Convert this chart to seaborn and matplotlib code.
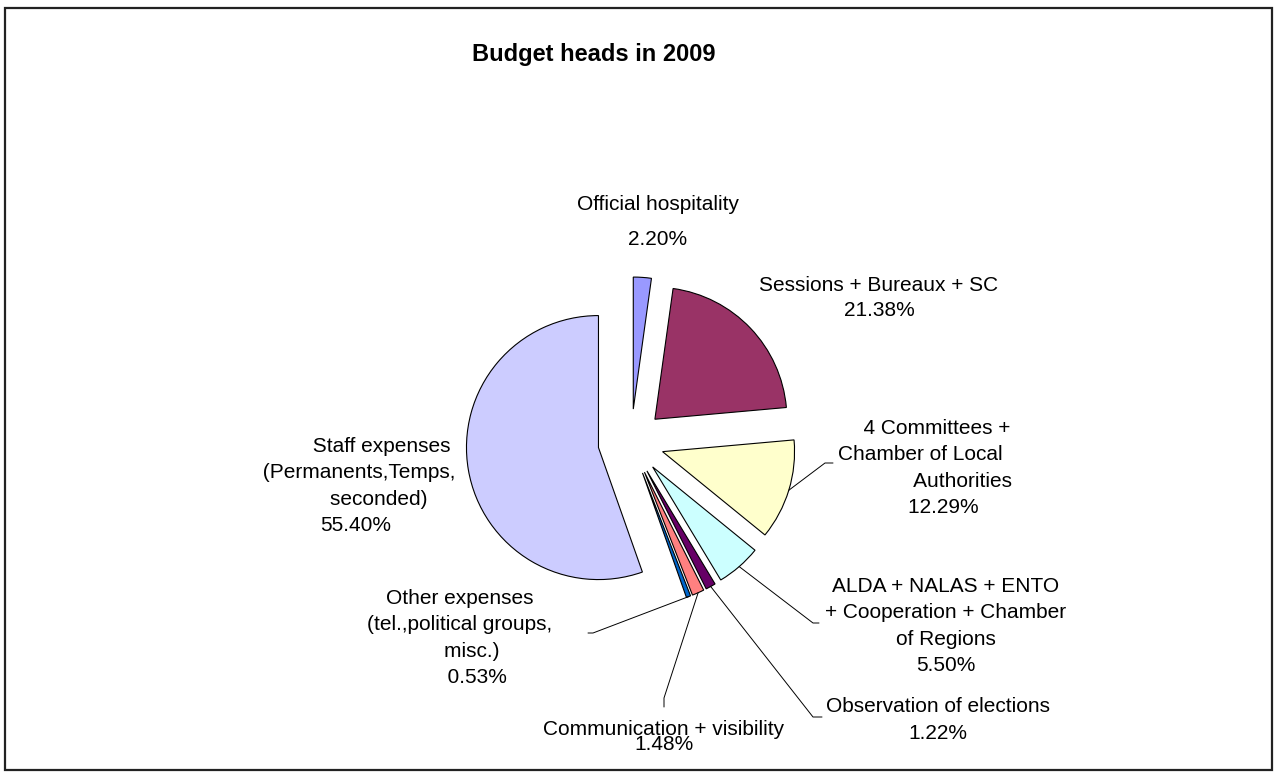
import math

import matplotlib

matplotlib.use("Agg")
import matplotlib.pyplot as plt
import seaborn as sns
from matplotlib.patches import Rectangle

# ------------------------------------------------------------------------------------------------ #
sns.set_style("white")
plt.rcParams["font.family"] = ["Liberation Sans", "DejaVu Sans"]
plt.rcParams["text.color"] = "black"
# ------------------------------------------------------------------------------------------------ #

# data, clockwise from 12 o'clock
heads = [
    "Official hospitality",
    "Sessions + Bureaux + SC",
    "4 Committees +\nChamber of Local\nAuthorities",
    "ALDA + NALAS + ENTO\n+ Cooperation + Chamber\nof Regions",
    "Observation of elections",
    "Communication + visibility",
    "Other expenses\n(tel.,political groups,\nmisc.)",
    "Staff expenses\n(Permanents,Temps,\nseconded)",
]
shares = [2.20, 21.38, 12.29, 5.50, 1.22, 1.48, 0.53, 55.40]
colors = ["#9999FF", "#993366", "#FFFFCC", "#CCFFFF", "#660066", "#FF8080", "#0066CC", "#CCCCFF"]

# layout (pixel coords, y down)
W, H = 1278, 776
center = (631, 442)
radius = 132
label_pos = [(658, 222), (879, 298), (920, 468), (946, 626), (938, 720), (664, 737), (460, 638),
             (356, 486)]
label_spacing = [2.1, 1.37, 1.5, 1.5, 1.5, 0.77, 1.5, 1.5]
# leading spaces per line (name lines + percent line), mimics the uneven Excel wrapping
indents = [None, None, [6, 0, 15, 8], None, None, None, [0, 0, 4, 6], [9, 1, 8, 0]]
leaders = [
    None,
    None,
    [(825, 463), (833, 463)],
    [(813, 623), (819, 623)],
    [(813, 717), (822, 717)],
    [(664, 698), (664, 707)],
    [(593, 633), (588, 633)],
    None,
]


def make_label(head: str, share: float, indent) -> str:
    lines = head.split("\n") + [f"{share:.2f}%"]
    if indent:
        lines = [" " * n + s for n, s in zip(indent, lines)]
    return "\n".join(lines)


def main() -> None:
    fig = plt.figure(figsize=(W / 100, H / 100), dpi=100)
    ax = fig.add_axes([0, 0, 1, 1])

    # y axis is flipped, so counterclock in data runs clockwise on screen
    wedges, _ = ax.pie(
        shares,
        colors=sns.color_palette(colors),
        startangle=-90,
        counterclock=True,
        explode=[33] * len(shares),
        center=center,
        radius=radius,
        wedgeprops=dict(edgecolor="black", linewidth=0.8),
    )
    ax.set_xlim(0, W)
    ax.set_ylim(H, 0)
    ax.axis("off")

    for wedge, head, share, pos, ls, indent, leader in zip(
        wedges, heads, shares, label_pos, label_spacing, indents, leaders
    ):
        ax.text(
            pos[0], pos[1], make_label(head, share, indent),
            ha="center", va="center", multialignment="center",
            fontsize=15, linespacing=ls, color="black",
        )
        if leader is None:
            continue
        theta = math.radians((wedge.theta1 + wedge.theta2) / 2)
        start = (wedge.center[0] + wedge.r * math.cos(theta),
                 wedge.center[1] + wedge.r * math.sin(theta))
        xs = [start[0]] + [p[0] for p in leader]
        ys = [start[1]] + [p[1] for p in leader]
        ax.plot(xs, ys, color="black", linewidth=0.7)

    ax.text(594, 54, "Budget heads in 2009", ha="center", va="center",
            fontsize=17, fontweight="bold", color="black")

    # chart area frame
    ax.add_patch(Rectangle((5, 8), W - 11, H - 14, fill=False, edgecolor="#222222",
                           linewidth=1.6, clip_on=False))

    fig.savefig("out.png", dpi=100)


if __name__ == "__main__":
    main()
